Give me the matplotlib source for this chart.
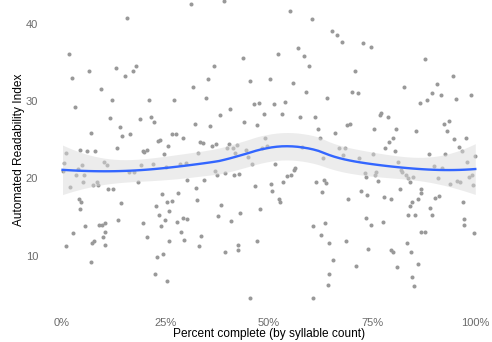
import numpy as np
import matplotlib
matplotlib.use("Agg")
from matplotlib import pyplot as plt

# percent complete (fraction of syllables) and Automated Readability Index
pct = [
    0.158, 0.018, 0.026, 0.067, 0.130, 0.152, 0.172, 0.180, 0.095, 0.121,
    0.211, 0.032, 0.117, 0.188, 0.216, 0.224, 0.140, 0.146, 0.166, 0.071,
    0.232, 0.237, 0.133, 0.044, 0.061, 0.081, 0.010, 0.196, 0.200, 0.205,
    0.246, 0.257, 0.006, 0.049, 0.101, 0.109, 0.191, 0.220, 0.252, 0.002,
    0.039, 0.035, 0.055, 0.051, 0.020, 0.075, 0.087, 0.085, 0.163, 0.175,
    0.184, 0.112, 0.125, 0.041, 0.047, 0.045, 0.143, 0.027, 0.057, 0.089,
    0.097, 0.105, 0.105, 0.099, 0.136, 0.197, 0.206, 0.011, 0.078, 0.073,
    0.104, 0.071, 0.242, 0.227, 0.234, 0.254, 0.258, 0.249, 0.240, 0.260,
    0.244, 0.229, 0.225, 0.255, 0.312, 0.391, 0.551, 0.605, 0.571, 0.585,
    0.522, 0.597, 0.437, 0.368, 0.354, 0.455, 0.502, 0.559, 0.316, 0.591,
    0.272, 0.348, 0.640, 0.464, 0.477, 0.512, 0.539, 0.407, 0.489, 0.532,
    0.382, 0.576, 0.612, 0.441, 0.321, 0.358, 0.471, 0.619, 0.266, 0.277,
    0.292, 0.623, 0.335, 0.341, 0.362, 0.403, 0.424, 0.399, 0.414, 0.492,
    0.496, 0.484, 0.445, 0.580, 0.372, 0.329, 0.419, 0.449, 0.631, 0.286,
    0.300, 0.459, 0.515, 0.564, 0.371, 0.375, 0.394, 0.416, 0.429, 0.561,
    0.543, 0.554, 0.302, 0.343, 0.467, 0.505, 0.507, 0.535, 0.324, 0.282,
    0.267, 0.326, 0.384, 0.525, 0.527, 0.480, 0.294, 0.303, 0.279, 0.378,
    0.410, 0.431, 0.288, 0.296, 0.336, 0.332, 0.472, 0.426, 0.425, 0.395,
    0.456, 0.608, 0.615, 0.633, 0.628, 0.638, 0.607, 0.635, 0.626, 0.645,
    0.645, 0.644, 0.654, 0.666, 0.676, 0.727, 0.746, 0.877, 0.708, 0.944,
    0.906, 0.828, 0.702, 0.715, 0.894, 0.915, 0.952, 0.989, 0.883, 0.865,
    0.772, 0.769, 0.787, 0.690, 0.697, 0.923, 0.935, 0.755, 0.808, 0.857,
    0.931, 0.659, 0.800, 0.791, 0.948, 0.976, 0.782, 0.804, 0.959, 0.967,
    0.670, 0.685, 0.680, 0.719, 0.751, 0.886, 0.926, 0.999, 0.812, 0.979,
    0.899, 0.919, 0.732, 0.734, 0.759, 0.757, 0.764, 0.819, 0.822, 0.831,
    0.836, 0.849, 0.841, 0.908, 0.939, 0.955, 0.961, 0.983, 0.992, 0.994,
    0.722, 0.738, 0.692, 0.778, 0.795, 0.816, 0.868, 0.869, 0.860, 0.846,
    0.842, 0.901, 0.911, 0.889, 0.894, 0.837, 0.853, 0.969, 0.972, 0.971,
    0.995, 0.735, 0.747, 0.776, 0.869, 0.878, 0.686, 0.739, 0.835, 0.844,
    0.795, 0.800, 0.655, 0.710, 0.810, 0.861, 0.847, 0.851,
]
ari = [
    40.7, 36.1, 33.0, 33.9, 34.3, 33.3, 33.9, 34.6, 31.6, 30.1,
    30.1, 29.2, 27.8, 27.7, 28.0, 27.3, 26.6, 25.5, 25.7, 25.9,
    24.9, 25.0, 23.9, 23.7, 23.5, 23.5, 23.3, 23.6, 23.4, 23.7,
    23.2, 24.2, 22.0, 21.8, 22.1, 21.7, 21.8, 21.9, 21.5, 21.0,
    21.2, 20.4, 20.4, 19.6, 18.9, 19.1, 19.1, 19.5, 20.8, 20.8,
    19.6, 18.6, 18.6, 17.4, 17.0, 16.0, 16.8, 13.0, 13.8, 14.0,
    14.0, 14.2, 13.1, 12.4, 14.6, 14.2, 12.4, 11.3, 11.9, 11.6,
    11.4, 9.2, 18.0, 16.5, 15.3, 16.9, 15.8, 14.6, 13.9, 11.9,
    10.2, 9.8, 7.6, 6.8, 42.6, 42.9, 41.7, 40.6, 36.9, 35.9,
    36.1, 34.6, 35.6, 34.6, 32.9, 32.6, 32.9, 32.4, 31.8, 31.2,
    30.2, 30.4, 30.4, 29.6, 29.8, 29.7, 29.9, 29.0, 28.4, 28.4,
    28.2, 28.0, 27.9, 27.3, 27.0, 26.8, 26.9, 26.4, 25.8, 25.8,
    25.3, 25.3, 24.7, 24.6, 24.2, 24.5, 24.3, 23.9, 24.0, 25.3,
    24.2, 23.9, 23.7, 24.1, 24.5, 23.3, 23.3, 22.8, 22.6, 21.9,
    22.0, 21.9, 21.9, 21.3, 21.0, 20.5, 20.7, 20.4, 20.6, 21.1,
    20.3, 20.4, 19.8, 19.8, 19.0, 19.3, 18.4, 19.5, 18.8, 18.1,
    17.1, 17.2, 16.6, 17.4, 16.9, 16.1, 14.9, 14.8, 14.4, 15.1,
    14.5, 15.5, 13.1, 12.0, 12.5, 11.3, 11.9, 11.4, 10.7, 10.5,
    4.6, 4.6, 19.5, 19.8, 18.2, 19.4, 13.9, 14.2, 12.7, 11.7,
    7.7, 6.2, 39.1, 38.6, 37.7, 37.5, 37.0, 35.4, 33.9, 33.3,
    32.2, 31.9, 31.2, 31.0, 31.1, 30.8, 30.3, 30.8, 30.2, 29.8,
    28.5, 28.2, 27.9, 26.9, 27.0, 27.0, 27.4, 26.4, 26.4, 26.2,
    26.2, 25.9, 25.2, 24.7, 25.1, 25.2, 23.9, 23.6, 24.1, 23.5,
    23.9, 24.0, 23.1, 22.7, 23.2, 23.2, 23.2, 22.9, 22.1, 22.1,
    21.6, 21.3, 20.7, 20.2, 20.9, 20.4, 19.7, 21.1, 20.9, 20.5,
    20.0, 20.2, 19.5, 20.0, 19.3, 19.7, 19.5, 20.2, 20.5, 19.1,
    18.4, 17.9, 17.3, 17.6, 17.4, 18.6, 18.6, 18.1, 17.3, 16.9,
    16.5, 17.5, 17.7, 16.2, 15.3, 15.3, 15.3, 16.9, 14.8, 14.0,
    12.9, 14.9, 14.0, 14.4, 13.1, 13.1, 11.9, 10.9, 11.7, 10.5,
    10.7, 10.5, 9.4, 8.7, 8.6, 8.9, 7.3, 6.1,
]

x_ticks = [0, 0.25, 0.5, 0.75, 1.0]
x_labels = ["0%", "25%", "50%", "75%", "100%"]
y_ticks = [10, 20, 30, 40]


def loess(x, y, grid, span=0.75):
    # local quadratic fit with tricube weights, plus standard errors
    n = len(x)
    q = int(np.floor(n * span))

    def operator(x0):
        d = np.abs(x - x0)
        h = np.sort(d)[q - 1]
        w = np.clip(1 - (d / h) ** 3, 0, None) ** 3
        X = np.column_stack([np.ones(n), x - x0, (x - x0) ** 2])
        XtW = X.T * w
        return np.linalg.solve(XtW @ X, XtW)[0]

    L = np.array([operator(xi) for xi in x])
    resid = y - L @ y
    IL = np.eye(n) - L
    d1 = np.trace(IL.T @ IL)
    sigma = np.sqrt(resid @ resid / d1)
    fit, se = [], []
    for g in grid:
        l = operator(g)
        fit.append(l @ y)
        se.append(sigma * np.sqrt(l @ l))
    return np.array(fit), np.array(se)


x = np.array(pct)
y = np.array(ari)
grid = np.linspace(x.min(), x.max(), 80)
fit, se = loess(x, y, grid)

plt.rcParams["font.family"] = ["Liberation Sans", "DejaVu Sans"]
fig = plt.figure(figsize=(4.92, 3.42), dpi=100)
ax = fig.add_axes([41 / 492, 30 / 342, 455.4 / 492, 312 / 342])

ax.scatter(x, y, s=8.5, color="#999999", linewidths=0, zorder=2)
ax.fill_between(grid, fit - 1.97 * se, fit + 1.97 * se,
                color="#dadada", alpha=0.5, linewidth=0, zorder=3)
ax.plot(grid, fit, color="#3366FF", lw=1.7, zorder=4)

ax.set_xlim(-0.05, 1.05)
ax.set_ylim(2.73, 43.09)
ax.set_xticks(x_ticks)
ax.set_xticklabels(x_labels)
ax.set_yticks(y_ticks)
ax.tick_params(length=0, labelsize=8, labelcolor="#6b6b6b")
ax.tick_params(axis="x", pad=4)
ax.tick_params(axis="y", pad=2)
for s in ax.spines.values():
    s.set_visible(False)

fig.text(269 / 492, 1 - 333.5 / 342, "Percent complete (by syllable count)",
         ha="center", va="center", fontsize=8.6, color="black")
fig.text(19 / 492, 1 - 149.5 / 342, "Automated Readability Index",
         ha="center", va="center", rotation=90, fontsize=8.6, color="black")

fig.savefig("out.png", dpi=100)
